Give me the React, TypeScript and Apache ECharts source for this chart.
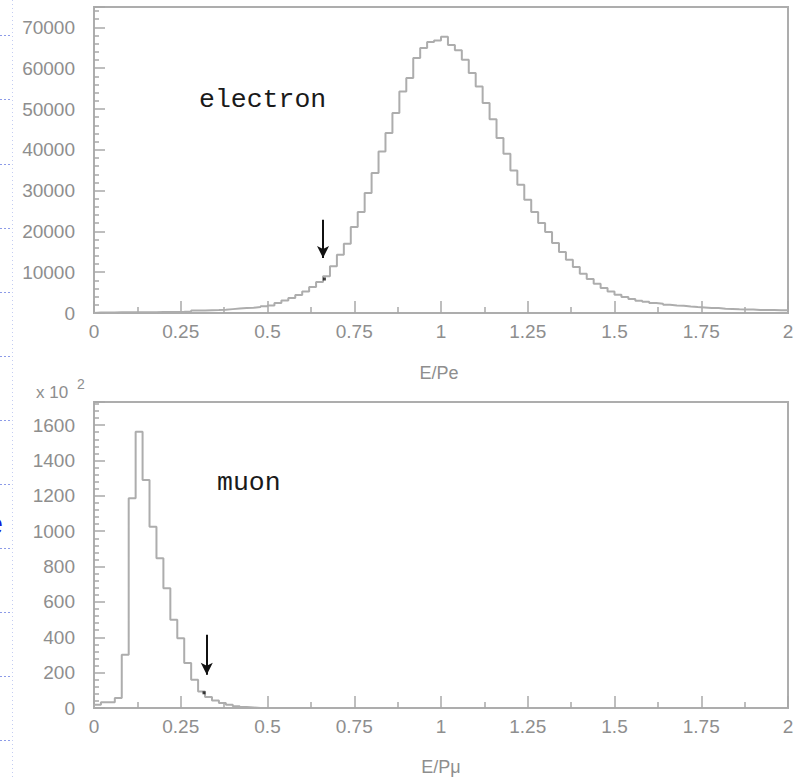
import React, { useEffect, useRef } from "react";
import * as echarts from "echarts";

// ---------- data ----------
const BIN_WIDTH = 0.02;
// electron E/Pe histogram, bins of 0.02 from 0 to 2
const electronCounts = [
  150, 150, 150, 160, 170, 180, 190, 200, 210, 230,
  250, 270, 300, 350, 600, 640, 680, 720, 800, 950,
  1100, 1200, 1300, 1450, 1650, 1860, 2450, 3050, 3670, 4410,
  5300, 6370, 7590, 8980, 11430, 14290, 16980, 21060, 24730, 29390,
  34300, 39590, 44100, 49000, 54300, 57580, 62480, 64930, 66450, 66800,
  67700, 65700, 64400, 62060, 58800, 55520, 51450, 47500, 42870, 39030,
  34940, 31430, 27760, 24740, 22050, 19840, 17150, 14940, 13060, 11270,
  9630, 8330, 7180, 6120, 5300, 4480, 3920, 3430, 3010, 2770,
  2450, 2280, 2030, 1860, 1790, 1620, 1470, 1370, 1250, 1200,
  1050, 1000, 900, 880, 850, 760, 740, 720, 700, 680,
];
// muon E/Pμ histogram (units of 10^2), bins of 0.02 from 0
const muonCounts = [
  19, 32, 32, 56, 301, 1187, 1563, 1290, 1026, 847,
  678, 499, 395, 254, 160, 94, 62, 42, 28, 18,
  10, 5, 3, 0,
];
// cut arrows [x, yTop, yTip] and marked points
const electronArrow = [0.66, 22860, 13475];
const electronDot = [0.664, 8330];
const muonArrow = [0.325, 414, 188];
const muonDot = [0.317, 86];

const xTickLabels = ["0", "0.25", "0.5", "0.75", "1", "1.25", "1.5", "1.75", "2"];

function histPoints(counts: number[]) {
  const pts: number[][] = [[0, 0]];
  counts.forEach((v, i) => {
    const x0 = +(i * BIN_WIDTH).toFixed(4);
    const x1 = +((i + 1) * BIN_WIDTH).toFixed(4);
    pts.push([x0, v]);
    pts.push([x1, v]);
  });
  const last = +(counts.length * BIN_WIDTH).toFixed(4);
  pts.push([last, 0]);
  return pts;
}

const GREY = "#adadad";
const TICK = "#a8a8a8";
const LABEL = "#8e8e8e";

function xAxisCfg(gridIndex: number) {
  return {
    type: "value",
    gridIndex,
    min: 0,
    max: 2,
    interval: 0.25,
    axisLine: { show: true, onZero: false, lineStyle: { color: GREY, width: 2 } },
    axisTick: { show: true, inside: true, length: 12, lineStyle: { color: TICK, width: 1.5 } },
    minorTick: { show: true, splitNumber: 2, length: 6, lineStyle: { color: TICK, width: 1.5 } },
    splitLine: { show: false },
    axisLabel: {
      color: LABEL,
      fontFamily: "Liberation Sans",
      fontSize: 19,
      margin: 9,
      formatter: (v: number) => {
        const idx = Math.round(v / 0.25);
        return xTickLabels[idx] ?? "";
      },
    },
  };
}

function yAxisCfg(gridIndex: number, max: number, interval: number) {
  return {
    type: "value",
    gridIndex,
    min: 0,
    max,
    interval,
    axisLine: { show: true, lineStyle: { color: GREY, width: 2 } },
    axisTick: { show: true, inside: true, length: 11, lineStyle: { color: TICK, width: 1.5 } },
    minorTick: { show: true, splitNumber: 5, length: 5, lineStyle: { color: TICK, width: 1.5 } },
    splitLine: { show: false },
    axisLabel: {
      color: LABEL,
      fontFamily: "Liberation Sans",
      fontSize: 19,
      margin: 19,
      showMaxLabel: false,
      formatter: (v: number) => String(v),
    },
  };
}

export default function App() {
  const ref = useRef<HTMLDivElement>(null);

  useEffect(() => {
    if (!ref.current) return;
    const chart = echarts.init(ref.current, undefined, { renderer: "svg" });

    const dashYs = [35, 99, 164, 228, 292, 356, 420, 484, 548, 612, 676, 740];
    const graphics: any[] = [
      {
        type: "line",
        shape: { x1: 12.5, y1: 0, x2: 12.5, y2: 779 },
        style: { stroke: "#c3ccf2", lineWidth: 1, lineDash: [1, 3] },
        silent: true,
      },
      ...dashYs.map((y) => ({
        type: "line",
        shape: { x1: 0, y1: y + 0.5, x2: 12, y2: y + 0.5 },
        style: { stroke: "#8d9be8", lineWidth: 1, lineDash: [2, 2] },
        silent: true,
      })),
      {
        type: "text",
        x: 3,
        y: 523,
        style: { text: "e", fill: "#1a1ad6", font: "30px 'Liberation Sans'", align: "right", verticalAlign: "middle" },
      },
      {
        type: "text",
        x: 199,
        y: 100,
        style: { text: "electron", fill: "#1a1a1a", font: "26.5px 'Liberation Mono'", align: "left", verticalAlign: "middle" },
      },
      {
        type: "text",
        x: 217,
        y: 483,
        style: { text: "muon", fill: "#1a1a1a", font: "26.5px 'Liberation Mono'", align: "left", verticalAlign: "middle" },
      },
      {
        type: "text",
        x: 439,
        y: 373,
        style: { text: "E/Pe", fill: LABEL, font: "18px 'Liberation Sans'", align: "center", verticalAlign: "middle" },
      },
      {
        type: "text",
        x: 441,
        y: 767,
        style: { text: "E/Pμ", fill: LABEL, font: "18px 'Liberation Sans'", align: "center", verticalAlign: "middle" },
      },
      {
        type: "text",
        x: 36,
        y: 392,
        style: { text: "x 10", fill: LABEL, font: "17px 'Liberation Sans'", align: "left", verticalAlign: "middle" },
      },
      {
        type: "text",
        x: 77,
        y: 384,
        style: { text: "2", fill: LABEL, font: "14px 'Liberation Sans'", align: "left", verticalAlign: "middle" },
      },
    ];

    const arrowLine = (a: number[]) => ({
      silent: true,
      symbol: ["none", "arrow"],
      symbolSize: [9, 12],
      label: { show: false },
      lineStyle: { color: "#111", width: 2, type: "solid" },
      data: [[{ coord: [a[0], a[1]] }, { coord: [a[0], a[2]] }]],
    });

    chart.setOption({
      animation: false,
      backgroundColor: "#ffffff",
      grid: [
        { left: 94, right: 13, top: 7, height: 306, show: true, borderColor: GREY, borderWidth: 2, containLabel: false },
        { left: 94, right: 13, top: 402, height: 306, show: true, borderColor: GREY, borderWidth: 2, containLabel: false },
      ],
      xAxis: [xAxisCfg(0), xAxisCfg(1)],
      yAxis: [yAxisCfg(0, 75000, 10000), yAxisCfg(1, 1731, 200)],
      graphic: graphics,
      series: [
        {
          type: "line",
          xAxisIndex: 0,
          yAxisIndex: 0,
          data: histPoints(electronCounts),
          showSymbol: false,
          symbol: "none",
          lineStyle: { color: GREY, width: 2 },
          markLine: arrowLine(electronArrow),
          z: 3,
        },
        {
          type: "line",
          xAxisIndex: 1,
          yAxisIndex: 1,
          data: histPoints(muonCounts),
          showSymbol: false,
          symbol: "none",
          lineStyle: { color: GREY, width: 2 },
          markLine: arrowLine(muonArrow),
          z: 3,
        },
        {
          type: "scatter",
          xAxisIndex: 0,
          yAxisIndex: 0,
          data: [electronDot],
          symbol: "rect",
          symbolSize: 3,
          itemStyle: { color: "#111" },
          z: 4,
        },
        {
          type: "scatter",
          xAxisIndex: 1,
          yAxisIndex: 1,
          data: [muonDot],
          symbol: "rect",
          symbolSize: 3,
          itemStyle: { color: "#111" },
          z: 4,
        },
      ],
    });

    return () => chart.dispose();
  }, []);

  return (
    <div
      ref={ref}
      style={{ position: "absolute", left: 0, top: 0, width: 801, height: 779, background: "#fff" }}
    />
  );
}
